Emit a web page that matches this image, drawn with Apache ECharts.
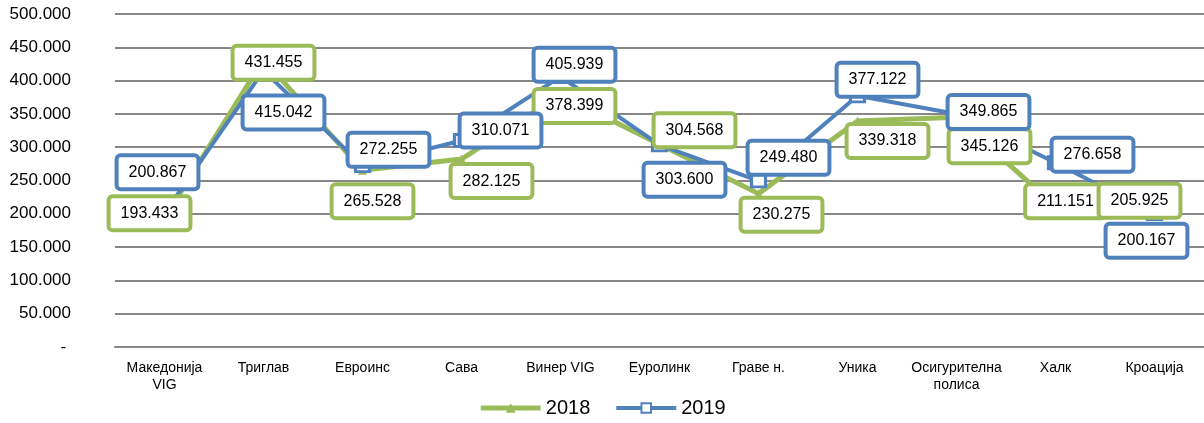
<!DOCTYPE html>
<html>
<head>
<meta charset="utf-8">
<script src="https://cdn.jsdelivr.net/npm/echarts@6/dist/echarts.min.js"></script>
<style>
  html, body { margin: 0; padding: 0; background: #fff; }
  #chart { width: 1204px; height: 423px; }
</style>
</head>
<body>
<div id="chart"></div>
<script>
var categories = ['Македонија\nVIG', 'Триглав', 'Евроинс', 'Сава', 'Винер VIG', 'Еуролинк',
                  'Граве н.', 'Уника', 'Осигурителна\nполиса', 'Халк', 'Кроација'];
var values2018 = [193433, 431455, 265528, 282125, 378399, 304568, 230275, 339318, 345126, 211151, 205925];
var values2019 = [200867, 415042, 272255, 310071, 405939, 303600, 249480, 377122, 349865, 276658, 200167];
var yTicks = [0, 50000, 100000, 150000, 200000, 250000, 300000, 350000, 400000, 450000, 500000];

// label box offsets from the point (px), as Excel placed them
var offsets2018 = [[-15, -5], [10, 3], [10, 31], [30, 22], [14, 11], [35, -14], [23, 21], [30, 20], [33, 29], [10, -5], [-15, -9]];
var offsets2019 = [[-7, -41], [20, 42], [26, -16], [39, -10], [14, -12], [25, 35], [30, -23], [20, -16], [32, -2], [37, -8], [-8, 27]];

var green = '#9bbb59';
var blue = '#4f81bd';

function fmt(v) {
    if (v === 0) return '- ';
    return String(v).replace(/\B(?=(\d{3})+(?!\d))/g, '.');
}

function labelData(vals, offs) {
    return vals.map(function (v, i) {
        return { value: v, label: { offset: offs[i] } };
    });
}

// label-only series so that the boxes sit above every line and marker
function labelSeries(name, vals, offs, color, z) {
    return {
        name: name,
        type: 'line',
        data: labelData(vals, offs),
        symbol: 'circle',
        symbolSize: 1,
        itemStyle: { color: 'rgba(0,0,0,0)' },
        lineStyle: { width: 0, opacity: 0 },
        silent: true,
        z: z,
        label: {
            show: true,
            position: 'inside',
            formatter: function (p) { return fmt(p.value); },
            fontFamily: 'Liberation Sans',
            fontSize: 16,
            color: '#000',
            backgroundColor: '#fff',
            borderColor: color,
            borderWidth: 4,
            borderRadius: 2,
            padding: [7, 10, 7, 10]
        }
    };
}

var chart = echarts.init(document.getElementById('chart'));
var option = {
    animation: false,
    grid: { left: 115, right: 0, top: 14, bottom: 76, containLabel: false },
    legend: {
        bottom: 0,
        left: 'center',
        itemWidth: 60,
        itemHeight: 12,
        itemGap: 24,
        textStyle: { fontFamily: 'Liberation Sans', fontSize: 20, color: '#000' },
        data: [
            { name: '2018', lineStyle: { width: 5 } },
            { name: '2019', lineStyle: { width: 4 } }
        ]
    },
    xAxis: {
        type: 'category',
        data: categories,
        boundaryGap: true,
        axisLine: { show: true, lineStyle: { color: '#878787', width: 2 } },
        axisTick: { show: false },
        axisLabel: {
            fontFamily: 'Liberation Sans',
            fontSize: 14,
            lineHeight: 17,
            color: '#000',
            margin: 13,
            interval: 0
        }
    },
    yAxis: {
        type: 'value',
        min: yTicks[0],
        max: yTicks[yTicks.length - 1],
        interval: yTicks[1] - yTicks[0],
        axisLine: { show: false },
        axisTick: { show: false },
        splitLine: { lineStyle: { color: '#878787', width: 2 } },
        axisLabel: {
            fontFamily: 'Liberation Sans',
            fontSize: 17,
            color: '#000',
            margin: 44,
            formatter: fmt
        }
    },
    series: [
        {
            name: '2018',
            type: 'line',
            data: values2018,
            symbol: 'triangle',
            symbolSize: 9,
            itemStyle: { color: green },
            lineStyle: { color: green, width: 5 },
            z: 2
        },
        {
            name: '2019',
            type: 'line',
            data: values2019,
            symbol: 'rect',
            symbolSize: [14, 12],
            itemStyle: { color: '#fff', borderColor: blue, borderWidth: 3 },
            lineStyle: { color: blue, width: 4 },
            z: 3
        },
        labelSeries('labels2018', values2018, offsets2018, green, 10),
        labelSeries('labels2019', values2019, offsets2019, blue, 11)
    ]
};
chart.setOption(option);
</script>
</body>
</html>
